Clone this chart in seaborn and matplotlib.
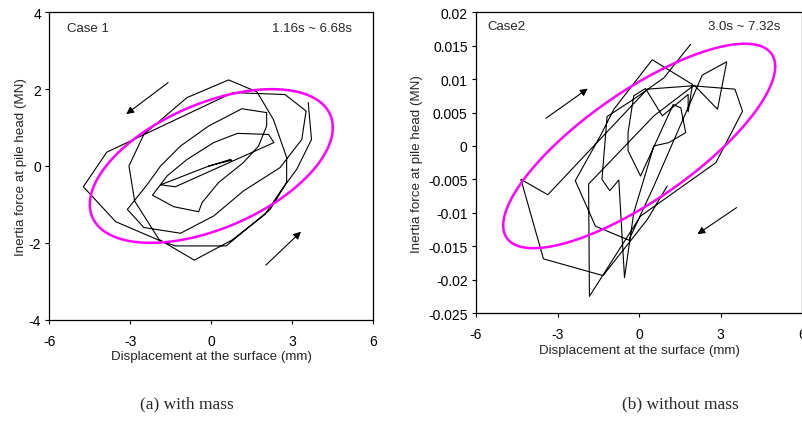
import numpy as np
import pandas as pd
import matplotlib
matplotlib.use("Agg")
import matplotlib.pyplot as plt
from matplotlib.ticker import FixedLocator, FuncFormatter
import seaborn as sns

# Case 1 (with mass): displacement (mm) and inertia force (MN)
case1_disp = [-0.10, 0.76, 0.70, -0.16,
              -1.88, -1.33, 2.32, 2.12, 0.97, 0.09, -0.90, -1.64,
              -2.18, -1.39, -0.47, -0.34, 0.27, 1.19, 1.75, 2.05, 2.05, 1.13, -0.10, -1.14, -1.88, -2.37,
              -3.11, -2.50, -1.14, 0.09, 1.19, 2.55, 3.35, 3.51, 2.73, 0.80, -3.87, -4.74, -3.54, -1.88,
              -1.33, 0.55, 2.18, 2.79,
              2.79, 2.30, 1.69, 0.64, -0.90, -2.50, -3.05, -2.84, -1.94, -0.63, 0.76, 1.99, 2.61, 3.16,
              3.71, 3.59]
case1_force = [0.00, 0.15, 0.17, -0.02,
               -0.49, -0.54, 0.61, 0.82, 0.85, 0.61, 0.17, -0.26,
               -0.76, -1.06, -1.19, -0.95, -0.43, 0.09, 0.52, 1.04, 1.39, 1.49, 1.04, 0.52, 0.00, -0.48,
               -1.13, -1.60, -1.75, -1.30, -0.65, -0.04, 0.69, 1.43, 1.86, 1.91, 0.36, -0.54, -1.45, -1.95,
               -2.08, -2.08, -1.13, -0.43,
               0.22, 1.21, 1.93, 2.24, 1.78, 0.82, 0.00, -0.91, -1.91, -2.45, -1.93, -1.26, -0.61, -0.09,
               0.69, 1.65]

# Case 2 (without mass)
case2_disp = [1.89, 0.91, -0.20, -1.18, -1.37, -1.08, -0.75, -0.54,
              -0.20, 0.54, 1.09, 1.71, 1.53, 1.25, 0.05, -0.41,
              -0.41, -0.20, 0.23, 0.85, 1.80, 1.80, 1.96, 0.48,
              -0.93, -1.43, -2.35, -1.61, -0.38, 0.54, 2.32, 3.22,
              2.88, 2.02, 0.54, -1.86, -1.83, 0.05, 2.82, 3.80,
              3.52, 1.96, 0.30, -3.36, -4.35, -3.52, -1.33, 0.30, 1.03]
case2_force = [0.0152, 0.0102, 0.0070, 0.0044, -0.0050, -0.0067, -0.0051, -0.0197,
               -0.0100, 0.0000, 0.0005, 0.0020, 0.0057, 0.0062, -0.0045, -0.0007,
               0.0020, 0.0075, 0.0086, 0.0045, 0.0077, 0.0051, 0.0092, 0.0129,
               0.0055, 0.0015, -0.0052, -0.0120, -0.0141, -0.0060, 0.0106, 0.0126,
               0.0055, 0.0091, 0.0045, -0.0057, -0.0225, -0.0105, -0.0025, 0.0052,
               0.0085, 0.0090, 0.0085, -0.0073, -0.0050, -0.0169, -0.0194, -0.0110, -0.0060]

# Reference ellipses: semi-extent in x, semi-extent in y, phase lag (deg)
ell1_ax, ell1_ay, ell1_phase = 4.5, 2.0, 60.0
ell2_ax, ell2_ay, ell2_phase = 5.0, 0.0153, 39.0

x_ticks = [-6, -3, 0, 3, 6]
y1_ticks = [-4, -2, 0, 2, 4]
y2_ticks = [-0.025, -0.02, -0.015, -0.01, -0.005, 0, 0.005, 0.01, 0.015, 0.02]

sns.set_theme(style="white")
plt.rcParams["font.family"] = ["Liberation Sans", "DejaVu Sans"]

fig = plt.figure(figsize=(8.03, 4.39), dpi=100)
ax1 = fig.add_axes([0.0614, 0.2695, 0.4035, 0.7002])
ax2 = fig.add_axes([0.5928, 0.2847, 0.4064, 0.6850])


def ellipse_frame(ax_x, ax_y, phase):
    t = np.linspace(0, 2 * np.pi, 361)
    return pd.DataFrame({"x": ax_x * np.cos(t),
                         "y": ax_y * np.cos(t - np.radians(phase)),
                         "order": np.arange(t.size)})


def style_axes(ax, yticks, ylim, ylabelpad):
    ax.set_xlim(-6, 6)
    ax.set_ylim(*ylim)
    ax.xaxis.set_major_locator(FixedLocator(x_ticks))
    ax.yaxis.set_major_locator(FixedLocator(yticks))
    ax.xaxis.set_major_formatter(FuncFormatter(lambda v, p: f"{v:g}"))
    ax.yaxis.set_major_formatter(FuncFormatter(lambda v, p: f"{v:g}"))
    ax.tick_params(axis="both", direction="out", length=3, width=0.8,
                   labelsize=10, colors="black", bottom=True, left=True)
    ax.tick_params(axis="x", pad=7)
    ax.tick_params(axis="y", pad=3)
    for s in ax.spines.values():
        s.set_visible(True)
        s.set_color("black")
        s.set_linewidth(0.9)
    ax.set_xlabel("Displacement at the surface (mm)", fontsize=9.6, labelpad=2)
    ax.set_ylabel("Inertia force at pile head (MN)", fontsize=9.6, labelpad=ylabelpad)
    ax.grid(False)


def arrow(ax, start, end):
    ax.annotate("", xy=end, xytext=start,
                arrowprops=dict(arrowstyle="-|>", color="black", lw=0.8,
                                mutation_scale=11, shrinkA=0, shrinkB=0))


# Left panel: with mass
df1 = pd.DataFrame({"x": case1_disp, "y": case1_force, "order": range(len(case1_disp))})
sns.lineplot(data=df1, x="x", y="y", sort=False, estimator=None, color="black",
             lw=0.8, ax=ax1)
sns.lineplot(data=ellipse_frame(ell1_ax, ell1_ay, ell1_phase), x="x", y="y",
             sort=False, estimator=None, color="#ff00ff", lw=1.8, ax=ax1)
style_axes(ax1, y1_ticks, (-4, 4), 1)
ax1.text(0.054, 0.949, "Case 1", transform=ax1.transAxes, fontsize=9.5,
         ha="left", va="center")
ax1.text(0.934, 0.949, "1.16s ~ 6.68s", transform=ax1.transAxes, fontsize=9.5,
         ha="right", va="center")
arrow(ax1, (-1.60, 2.17), (-3.15, 1.35))
arrow(ax1, (2.02, -2.58), (3.32, -1.71))

# Right panel: without mass
df2 = pd.DataFrame({"x": case2_disp, "y": case2_force, "order": range(len(case2_disp))})
sns.lineplot(data=df2, x="x", y="y", sort=False, estimator=None, color="black",
             lw=0.8, ax=ax2)
sns.lineplot(data=ellipse_frame(ell2_ax, ell2_ay, ell2_phase), x="x", y="y",
             sort=False, estimator=None, color="#ff00ff", lw=1.8, ax=ax2)
style_axes(ax2, y2_ticks, (-0.025, 0.02), 4)
ax2.text(0.036, 0.953, "Case2", transform=ax2.transAxes, fontsize=9.5,
         ha="left", va="center")
ax2.text(0.934, 0.953, "3.0s ~ 7.32s", transform=ax2.transAxes, fontsize=9.5,
         ha="right", va="center")
arrow(ax2, (-3.43, 0.00414), (-1.89, 0.00858))
arrow(ax2, (3.58, -0.00923), (2.14, -0.0132))

# Sub-figure captions
fig.text(187 / 803, 1 - 404 / 439, "(a) with mass", ha="center", va="center",
         fontsize=12.5, family=["Liberation Serif", "DejaVu Serif"])
fig.text(680 / 803, 1 - 404 / 439, "(b) without mass", ha="center", va="center",
         fontsize=12.5, family=["Liberation Serif", "DejaVu Serif"])

fig.savefig("out.png", dpi=100, facecolor="white")
